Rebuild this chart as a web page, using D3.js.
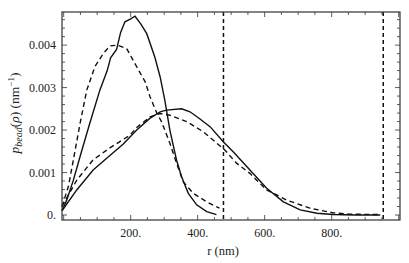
<!DOCTYPE html>
<html>
<head>
<meta charset="utf-8">
<script src="https://cdn.jsdelivr.net/npm/d3@7"></script>
<style>
body { margin:0; background:#fff; }
</style>
</head>
<body>
<svg id="chart" width="409" height="263"></svg>
<script>
"use strict";

// r (nm) / probability density
var narrowSolidR = [-5, 9, 29, 53, 78, 108, 130, 140, 158, 170, 183, 200, 213, 230, 248, 272, 288, 302, 317, 337, 352, 372, 397, 427, 456];
var narrowSolidP = [0.0001, 0.00035, 0.00082, 0.00149, 0.00216, 0.00294, 0.0034, 0.0037, 0.0039, 0.0043, 0.00455, 0.00462, 0.00468, 0.0045, 0.00427, 0.00372, 0.00325, 0.0027, 0.0020, 0.00129, 0.0009, 0.00051, 0.00024, 0.00008, 0.00001];

var narrowDashR = [-5, 14, 29, 49, 69, 93, 118, 138, 160, 188, 218, 243, 258, 278, 292, 317, 337, 357, 387, 427, 465];
var narrowDashP = [0.0002, 0.00067, 0.0013, 0.00216, 0.00294, 0.00349, 0.0038, 0.00398, 0.0040, 0.00392, 0.00349, 0.00314, 0.00278, 0.0024, 0.0022, 0.00169, 0.00122, 0.00078, 0.00051, 0.00031, 0.00016];

var wideSolidR = [-5, 39, 88, 138, 178, 218, 258, 288, 307, 352, 377, 402, 437, 477, 506, 556, 606, 656, 706, 756, 805, 870, 945];
var wideSolidP = [0.0001, 0.00059, 0.00106, 0.0014, 0.00167, 0.002, 0.00228, 0.00243, 0.00247, 0.0025, 0.00243, 0.00229, 0.00208, 0.00172, 0.00149, 0.00106, 0.00063, 0.00031, 0.00012, 0.00004, 0.00001, 0, 0];

var wideDashR = [-5, 39, 88, 138, 198, 218, 258, 288, 317, 367, 417, 447, 481, 516, 556, 606, 666, 735, 805, 855, 945];
var wideDashP = [0.0002, 0.00082, 0.0013, 0.00158, 0.00188, 0.00206, 0.00231, 0.00239, 0.00235, 0.0022, 0.00196, 0.00176, 0.00153, 0.00122, 0.00098, 0.00059, 0.00035, 0.00016, 0.00005, 0.00002, 0.00001];

var cutoffs = [477, 954];

var xTicks = [200, 400, 600, 800];
var xTickLabels = ["200.", "400.", "600.", "800."];
var yTicks = [0, 0.001, 0.002, 0.003, 0.004];
var yTickLabels = ["0.", "0.001", "0.002", "0.003", "0.004"];

var serif = '"Liberation Serif", "Times New Roman", "DejaVu Serif", serif';
var svg = d3.select('#chart').attr('font-family', serif);
var pLeft = 62, pRight = 400, pTop = 12, pBottom = 220;

var x = d3.scaleLinear().domain([-5, 1004]).range([pLeft, pRight]);
var y = d3.scaleLinear().domain([-0.000118, 0.00478]).range([pBottom, pTop]);

var line = d3.line()
	.x(function(d){ return x(d[0]); })
	.y(function(d){ return y(d[1]); });

function draw(rs, ps, dashed) {
	var pts = rs.map(function(r, i){ return [r, ps[i]]; });
	svg.append('path')
		.datum(pts)
		.attr('d', line)
		.attr('fill', 'none')
		.attr('stroke', '#111')
		.attr('stroke-width', 1.4)
		.attr('stroke-dasharray', dashed ? '5,3.5' : null);
}

draw(narrowSolidR, narrowSolidP, false);
draw(narrowDashR, narrowDashP, true);
draw(wideSolidR, wideSolidP, false);
draw(wideDashR, wideDashP, true);

svg.selectAll('.cut').data(cutoffs).enter().append('line')
	.attr('x1', function(d){ return x(d); })
	.attr('x2', function(d){ return x(d); })
	.attr('y1', pTop).attr('y2', pBottom)
	.attr('stroke', '#111')
	.attr('stroke-width', 1.5)
	.attr('stroke-dasharray', '4,3');

// minor ticks every 50 nm and every 0.0002
var xMinor = d3.range(0, 1001, 50);
var yMinor = d3.range(0, 24).map(function(i){ return i*0.0002; });

function xTickLen(v){ return (v % 200 === 0) ? 5 : 3; }
function yTickLen(v){ return (Math.abs(v*1000 - Math.round(v*1000)) < 1e-6) ? 5 : 3; }

var ticks = svg.append('g').attr('stroke', '#333').attr('stroke-width', 0.8);
xMinor.forEach(function(v){
	if (x(v) <= pLeft || x(v) >= pRight) { return; }
	ticks.append('line').attr('x1', x(v)).attr('x2', x(v)).attr('y1', pBottom).attr('y2', pBottom - xTickLen(v));
	ticks.append('line').attr('x1', x(v)).attr('x2', x(v)).attr('y1', pTop).attr('y2', pTop + xTickLen(v));
});
yMinor.forEach(function(v){
	if (y(v) <= pTop || y(v) >= pBottom) { return; }
	ticks.append('line').attr('y1', y(v)).attr('y2', y(v)).attr('x1', pLeft).attr('x2', pLeft + yTickLen(v));
	ticks.append('line').attr('y1', y(v)).attr('y2', y(v)).attr('x1', pRight).attr('x2', pRight - yTickLen(v));
});

svg.append('rect')
	.attr('x', pLeft).attr('y', pTop)
	.attr('width', pRight - pLeft).attr('height', pBottom - pTop)
	.attr('fill', 'none')
	.attr('stroke', '#333')
	.attr('stroke-width', 1.2);

svg.selectAll('.xl').data(xTicks).enter().append('text')
	.attr('x', function(d){ return x(d); })
	.attr('y', 237)
	.attr('text-anchor', 'middle')
	.attr('font-size', 12)
	.attr('fill', '#222')
	.text(function(d, i){ return xTickLabels[i]; });

svg.selectAll('.yl').data(yTicks).enter().append('text')
	.attr('x', 56)
	.attr('y', function(d){ return y(d) + 4; })
	.attr('text-anchor', 'end')
	.attr('font-size', 12)
	.attr('fill', '#222')
	.text(function(d, i){ return yTickLabels[i]; });

svg.append('text')
	.attr('x', 223).attr('y', 255)
	.attr('text-anchor', 'middle')
	.attr('font-size', 12.5)
	.attr('fill', '#222')
	.text('r (nm)');

var yl = svg.append('text')
	.attr('transform', 'translate(19,113) rotate(-90)')
	.attr('text-anchor', 'middle')
	.attr('font-size', 13.5)
	.attr('fill', '#222');
yl.append('tspan').attr('font-style', 'italic').text('p');
yl.append('tspan').attr('font-style', 'italic').attr('font-size', 10).attr('dy', 3).text('bead');
yl.append('tspan').attr('dy', -3).text('(');
yl.append('tspan').attr('font-style', 'italic').text('ρ');
yl.append('tspan').text(') (nm');
yl.append('tspan').attr('font-size', 9).attr('dy', -5).text('−1');
yl.append('tspan').attr('dy', 5).text(')');
</script>
</body>
</html>
